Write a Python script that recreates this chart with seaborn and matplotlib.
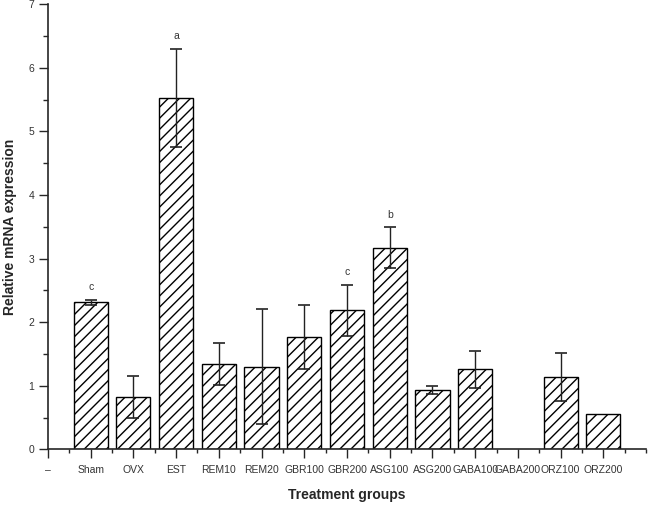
import numpy as np
import pandas as pd
import seaborn as sns
import matplotlib.pyplot as plt
from matplotlib.ticker import MultipleLocator

groups = ['–', 'Sham', 'OVX', 'EST', 'REM10', 'REM20', 'GBR100', 'GBR200',
          'ASG100', 'ASG200', 'GABA100', 'GABA200', 'ORZ100', 'ORZ200']
means = [np.nan, 2.31, 0.83, 5.53, 1.34, 1.30, 1.77, 2.19,
         3.17, 0.93, 1.26, np.nan, 1.14, 0.56]
errors = [np.nan, 0.04, 0.33, 0.77, 0.33, 0.90, 0.50, 0.40,
          0.32, 0.06, 0.29, np.nan, 0.38, np.nan]
letters = ['', 'c', '', 'a', '', '', '', 'c', 'b', '', '', '', '', '']

sns.set_style('ticks')
plt.rcParams['font.family'] = ['Liberation Sans', 'DejaVu Sans']

df = pd.DataFrame({'group': groups, 'value': means})

fig = plt.figure(figsize=(6.48, 5.09), dpi=100)
ax = fig.add_axes([0.074, 0.117, 0.923, 0.875])

sns.barplot(data=df, x='group', y='value', order=groups, color='white',
            edgecolor='black', linewidth=1.0, width=0.8, errorbar=None, ax=ax)
for p in ax.patches:
    p.set_hatch('///')

xs = np.arange(len(groups))
ax.errorbar(xs, means, yerr=errors, fmt='none', ecolor='#222222',
            elinewidth=1.0, capsize=4, capthick=1.2)

for x, m, e, lab in zip(xs, means, errors, letters):
    if lab:
        ax.text(x, m + e + 0.12, lab, ha='center', va='bottom',
                fontsize=7.5, color='#333333')

ax.set_xlim(0, 14)
ax.set_ylim(0, 7)
ax.yaxis.set_major_locator(MultipleLocator(1))
ax.yaxis.set_minor_locator(MultipleLocator(0.5))
ax.xaxis.set_minor_locator(MultipleLocator(0.5))
ax.tick_params(axis='both', which='major', length=6.5, width=1,
               labelsize=7.5, labelcolor='#333333', direction='out', pad=3.5)
ax.tick_params(axis='y', which='minor', length=3.5, width=1, direction='out')
ax.tick_params(axis='x', which='minor', length=3, width=1, direction='out')
ax.tick_params(axis='x', which='major', pad=5)

ax.set_xlabel('Treatment groups', fontsize=10, fontweight='bold', labelpad=9)
ax.set_ylabel('Relative mRNA expression', fontsize=10, fontweight='bold',
              labelpad=8)
sns.despine(ax=ax)
for s in ['left', 'bottom']:
    ax.spines[s].set_linewidth(1.2)

fig.savefig('out.png', dpi=100)
